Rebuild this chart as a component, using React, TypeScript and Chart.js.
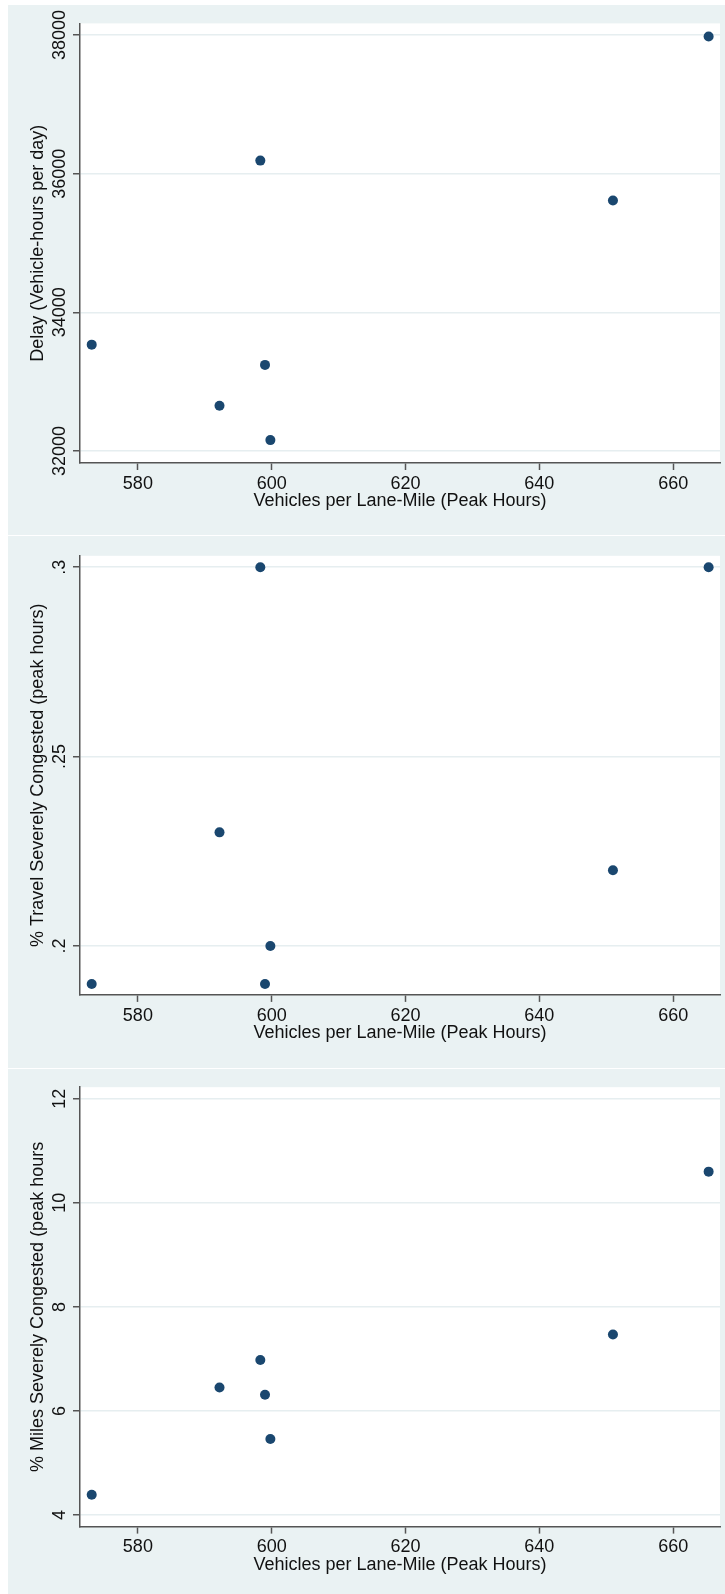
import React, { useEffect, useRef } from 'react';
import { Chart, registerables } from 'chart.js';

Chart.register(...registerables);

// ---- data ----
const vehiclesPerLaneMile = [573.1, 592.2, 598.3, 599.0, 599.8, 651.0, 665.3];
const delayHours = [33534, 32653, 36188, 33242, 32157, 35613, 37978];
const travelCongested = [0.19, 0.23, 0.3, 0.19, 0.2, 0.22, 0.3];
const milesCongested = [4.39, 6.45, 6.98, 6.31, 5.46, 7.47, 10.6];

const xTickValues = [580, 600, 620, 640, 660];
const xTickLabels = ['580', '600', '620', '640', '660'];
const xRange = [571.35, 667.0];
const xTitle = 'Vehicles per Lane-Mile (Peak Hours)';

const delayTickValues = [32000, 34000, 36000, 38000];
const delayTickLabels = ['32000', '34000', '36000', '38000'];
const delayRange = [31827, 38167];
const delayTitle = 'Delay (Vehicle-hours per day)';

const travelTickValues = [0.2, 0.25, 0.3];
const travelTickLabels = ['.2', '.25', '.3'];
const travelRange = [0.1871, 0.303];
const travelTitle = '% Travel Severely Congested (peak hours)';

const milesTickValues = [4, 6, 8, 10, 12];
const milesTickLabels = ['4', '6', '8', '10', '12'];
const milesRange = [3.777, 12.223];
const milesTitle = '% Miles Severely Congested (peak hours';

// ---- styles ----
const BG = '#eaf2f3';
const MARKER = '#1a476f';
const AXIS = '#555555';
const GRID = '#e6eef0';
const TEXT = '#111111';
const FONT_FAMILY = "'Liberation Sans', Arial, Helvetica, sans-serif";
const FONT_SIZE = 18;
const CANVAS_W = 717;

type PanelProps = {
  yValues: number[];
  yTicks: number[];
  yLabels: string[];
  yRange: number[];
  yTitle: string;
  height: number;
  plotTop: number;
  plotBottom: number;
  gapAfter: number;
};

function Panel(props: PanelProps) {
  const ref = useRef<HTMLCanvasElement | null>(null);
  useEffect(() => {
    const canvas = ref.current;
    if (!canvas) return;
    const { yValues, yTicks, yLabels, yRange, yTitle, height, plotTop, plotBottom } = props;
    const lineH = FONT_SIZE * 1.2;
    const xAxisH = height - plotBottom;
    const xTitlePadBottom = height - plotBottom - 38 - lineH / 2;

    const bgPlugin = {
      id: 'bgFill',
      beforeDraw(chart: any) {
        const { ctx, chartArea, width } = chart;
        ctx.save();
        ctx.fillStyle = BG;
        ctx.fillRect(0, 0, width, chart.height);
        ctx.fillStyle = '#ffffff';
        ctx.fillRect(chartArea.left, chartArea.top, chartArea.right - chartArea.left, chartArea.bottom - chartArea.top);
        ctx.restore();
      },
    };

    const yLabelPlugin = {
      id: 'yRotLabels',
      afterDraw(chart: any) {
        const scale = chart.scales.y;
        const ctx = chart.ctx;
        ctx.save();
        ctx.font = `${FONT_SIZE}px ${FONT_FAMILY}`;
        ctx.fillStyle = TEXT;
        ctx.textAlign = 'center';
        ctx.textBaseline = 'alphabetic';
        scale.ticks.forEach((t: any, i: number) => {
          const y = scale.getPixelForValue(t.value);
          ctx.save();
          ctx.translate(57, y);
          ctx.rotate(-Math.PI / 2);
          ctx.fillText(yLabels[i] ?? String(t.value), 0, 0);
          ctx.restore();
        });
        ctx.restore();
      },
    };

    const points = vehiclesPerLaneMile.map((x, i) => ({ x, y: yValues[i] }));

    const chart = new Chart(canvas, {
      type: 'scatter',
      data: {
        datasets: [
          {
            data: points,
            pointRadius: 5,
            pointHoverRadius: 5,
            pointBackgroundColor: MARKER,
            pointBorderColor: MARKER,
            pointBorderWidth: 0,
            showLine: false,
          },
        ],
      },
      options: {
        responsive: false,
        animation: false,
        devicePixelRatio: 1,
        layout: { padding: { top: plotTop, right: 5, left: 0, bottom: 0 } },
        plugins: {
          legend: { display: false },
          tooltip: { enabled: false },
        },
        scales: {
          x: {
            type: 'linear',
            min: xRange[0],
            max: xRange[1],
            afterBuildTicks: (scale: any) => {
              scale.ticks = xTickValues.map((v) => ({ value: v }));
            },
            afterFit: (scale: any) => {
              scale.height = xAxisH;
            },
            ticks: {
              callback: (_v: any, i: number) => xTickLabels[i],
              font: { family: FONT_FAMILY, size: FONT_SIZE },
              color: TEXT,
              padding: 3,
              maxRotation: 0,
              autoSkip: false,
            },
            grid: {
              drawOnChartArea: false,
              drawTicks: true,
              tickLength: 7,
              tickColor: AXIS,
              tickWidth: 1.5,
              color: GRID,
            },
            border: { display: true, color: AXIS, width: 1.5 },
            title: {
              display: true,
              text: xTitle,
              font: { family: FONT_FAMILY, size: FONT_SIZE },
              color: TEXT,
              padding: { top: 0, bottom: xTitlePadBottom },
            },
          },
          y: {
            type: 'linear',
            min: yRange[0],
            max: yRange[1],
            afterBuildTicks: (scale: any) => {
              scale.ticks = yTicks.map((v) => ({ value: v }));
            },
            afterFit: (scale: any) => {
              scale.width = 72;
            },
            ticks: {
              display: false,
              callback: (_v: any, i: number) => yLabels[i],
              autoSkip: false,
            },
            grid: {
              drawOnChartArea: true,
              drawTicks: true,
              tickLength: 7,
              tickColor: AXIS,
              tickWidth: 1.5,
              color: GRID,
              lineWidth: 1.5,
            },
            border: { display: true, color: AXIS, width: 1.5 },
            title: {
              display: true,
              text: yTitle,
              font: { family: FONT_FAMILY, size: FONT_SIZE },
              color: TEXT,
              padding: { top: 19, bottom: 0 },
            },
          },
        },
      } as any,
      plugins: [bgPlugin, yLabelPlugin],
    });
    return () => chart.destroy();
  }, []);

  return (
    <canvas
      ref={ref}
      width={CANVAS_W}
      height={props.height}
      style={{ display: 'block', width: CANVAS_W, height: props.height, marginBottom: props.gapAfter }}
    />
  );
}

export default function App() {
  return (
    <div
      style={{
        position: 'absolute',
        left: 8,
        top: 5,
        width: CANVAS_W,
        height: 1589,
        overflow: 'hidden',
        background: '#ffffff',
      }}
    >
      <Panel
        yValues={delayHours}
        yTicks={delayTickValues}
        yLabels={delayTickLabels}
        yRange={delayRange}
        yTitle={delayTitle}
        height={530}
        plotTop={18.4}
        plotBottom={458}
        gapAfter={1}
      />
      <Panel
        yValues={travelCongested}
        yTicks={travelTickValues}
        yLabels={travelTickLabels}
        yRange={travelRange}
        yTitle={travelTitle}
        height={532}
        plotTop={19.8}
        plotBottom={458.9}
        gapAfter={1}
      />
      <Panel
        yValues={milesCongested}
        yTicks={milesTickValues}
        yLabels={milesTickLabels}
        yRange={milesRange}
        yTitle={milesTitle}
        height={531}
        plotTop={18.2}
        plotBottom={457.6}
        gapAfter={0}
      />
    </div>
  );
}
